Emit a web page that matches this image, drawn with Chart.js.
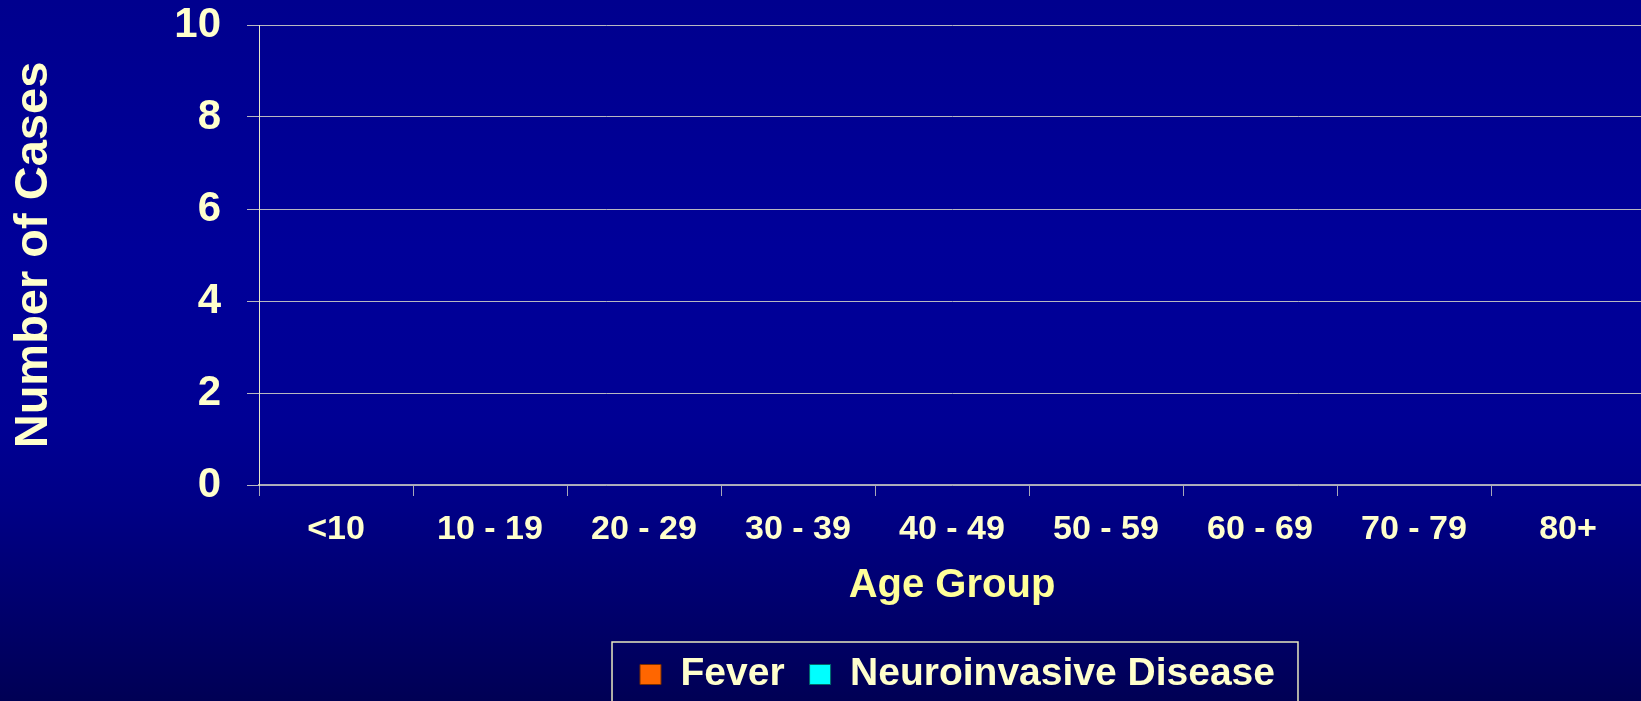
<!DOCTYPE html>
<html>
<head>
<meta charset="utf-8">
<script src="https://cdn.jsdelivr.net/npm/chart.js@4.4.1/dist/chart.umd.min.js"></script>
<style>
  html, body {
    margin: 0;
    padding: 0;
    width: 100%;
    height: 100%;
    overflow: hidden;
    background: #000080;
  }
  #wrap {
    position: absolute;
    left: 0;
    top: 0;
    width: 1645px;
    height: 704px;
  }
</style>
</head>
<body>
<div id="wrap"><canvas id="cases-chart"></canvas></div>
<script>
// data: no bars are shown, so every count is 0
const ageGroups = ['<10', '10 - 19', '20 - 29', '30 - 39', '40 - 49', '50 - 59', '60 - 69', '70 - 79', '80+'];
const feverCases = [0, 0, 0, 0, 0, 0, 0, 0, 0];
const neuroCases = [0, 0, 0, 0, 0, 0, 0, 0, 0];
const yTicks = [0, 2, 4, 6, 8, 10];

const pale = '#FFFFCC';
const yellow = '#FFFF99';

Chart.defaults.font.family = '"Liberation Sans", Arial, sans-serif';

// slide background, dark blue fading darker to the bottom
const slideBackground = {
  id: 'slideBackground',
  beforeDraw(chart) {
    const { ctx, width, height } = chart;
    const g = ctx.createLinearGradient(0, 0, 0, height);
    g.addColorStop(0, '#00008E');
    g.addColorStop(0.35, '#000099');
    g.addColorStop(0.6, '#000094');
    g.addColorStop(0.72, '#000086');
    g.addColorStop(1, '#000054');
    ctx.save();
    ctx.fillStyle = g;
    ctx.fillRect(0, 0, width, height);
    ctx.restore();
  }
};

// legend sits right of centre in the original, with a frame round it
const legendFrame = {
  id: 'legendFrame',
  afterLayout(chart) {
    chart.legend.left += 135;
    chart.legend.right += 135;
  },
  afterDraw(chart) {
    const { ctx, legend } = chart;
    const cx = (legend.left + legend.right) / 2;
    const span = legend.lineWidths[0] - legend.options.labels.padding;

    ctx.save();
    ctx.strokeStyle = '#E8E8C0';
    ctx.lineWidth = 1.5;
    ctx.strokeRect(cx - span / 2 - 28, legend.top + 12, span + 51, chart.height + 20);
    ctx.restore();
  }
};

const config = {
  type: 'bar',
  data: {
    labels: ageGroups,
    datasets: [{
      label: 'Fever',
      data: feverCases,
      backgroundColor: '#FF6600',
      borderColor: '#7A2E00',
      borderWidth: 1
    }, {
      label: 'Neuroinvasive Disease',
      data: neuroCases,
      backgroundColor: '#00FFFF',
      borderColor: '#006A6A',
      borderWidth: 1
    }]
  },
  options: {
    responsive: true,
    maintainAspectRatio: false,
    animation: false,
    layout: {
      padding: { top: 0, right: 0, bottom: 0, left: 0 }
    },
    scales: {
      x: {
        stacked: true,
        afterFit(scale) {
          scale.height = 145;
        },
        grid: {
          offset: true,
          drawOnChartArea: false,
          drawTicks: true,
          tickLength: 11,
          color: '#A8A8B8'
        },
        border: { color: '#A8A8B8', width: 1.5 },
        ticks: {
          color: pale,
          padding: 13,
          maxRotation: 0,
          font: { size: 34, weight: 'bold' }
        },
        title: {
          display: true,
          text: 'Age Group',
          color: yellow,
          padding: { top: 0, bottom: 20 },
          font: { size: 40, weight: 'bold' }
        }
      },
      y: {
        stacked: true,
        min: 0,
        max: 10,
        afterFit(scale) {
          scale.width = 259;
          scale.paddingTop = 25;
        },
        afterBuildTicks(scale) {
          scale.ticks = yTicks.map(v => ({ value: v }));
        },
        grid: {
          drawTicks: true,
          tickLength: 12,
          color: '#B8B8C0'
        },
        border: { color: '#E8E8C8', width: 1 },
        ticks: {
          color: pale,
          padding: 26,
          font: { size: 42, weight: 'bold' }
        },
        title: {
          display: true,
          text: 'Number of Cases',
          color: pale,
          padding: { top: 6, bottom: 0 },
          font: { size: 47, weight: 'bold' }
        }
      }
    },
    plugins: {
      legend: {
        position: 'bottom',
        labels: {
          color: pale,
          boxWidth: 21,
          boxHeight: 20,
          padding: 25,
          font: { size: 39, weight: 'bold' }
        }
      },
      tooltip: { enabled: false }
    }
  },
  plugins: [slideBackground, legendFrame]
};

const casesChart = new Chart(
  document.getElementById('cases-chart').getContext('2d'),
  config
);
</script>
</body>
</html>
